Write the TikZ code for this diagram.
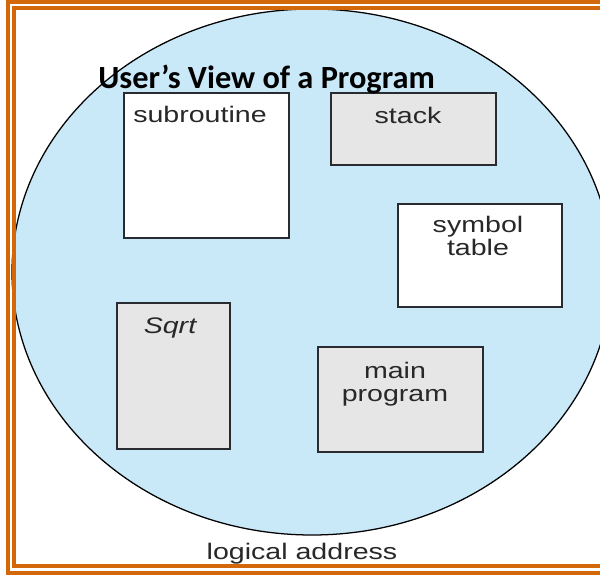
\documentclass[tikz,border=0pt]{standalone}
\usepackage{fontspec}
\setmainfont{Liberation Sans}
\newfontfamily\titlefont{Carlito}
\definecolor{frameorange}{RGB}{210,104,10}
\definecolor{spaceblue}{RGB}{201,232,248}
\definecolor{segfill}{RGB}{230,230,230}
\definecolor{segline}{RGB}{40,44,48}
\definecolor{segtext}{RGB}{40,40,40}
\tikzset{
  segbox/.style={draw=segline, line width=1pt, inner sep=0pt},
  seglabel/.style={anchor=base, text=segtext, inner sep=0pt, align=center,
    font=\fontsize{16pt}{17pt}\selectfont, xscale=1.27, transform shape}
}
\begin{document}
\begin{tikzpicture}[x=0.025cm,y=-0.025cm]
\useasboundingbox (0,0) rectangle (600,577);
\clip (0,0) rectangle (600,577);
\fill [color=white] (0,0) rectangle (600,577);
% logical address space
\draw [fill=spaceblue, line width=0.9pt] (312,272) ellipse (300 and 263);
% double frame
\draw [color=frameorange, line width=2.2pt] (8,2) rectangle (620,573);
\draw [color=frameorange, line width=2.2pt] (14,8) rectangle (614,566);
% segments
\node[segbox, fill=white, minimum width=4.125cm, minimum height=3.625cm] (sub) at (206.5,165.5) {};
\node[segbox, fill=segfill, minimum width=4.125cm, minimum height=1.8cm] (stack) at (413.5,129) {};
\node[segbox, fill=white, minimum width=4.1cm, minimum height=2.575cm] (symtab) at (480,255.5) {};
\node[segbox, fill=segfill, minimum width=2.825cm, minimum height=3.65cm] (sqrt) at (173.5,376) {};
\node[segbox, fill=segfill, minimum width=4.125cm, minimum height=2.625cm] (mainprog) at (400.5,399.5) {};
\node[seglabel] (sublbl) at (200,123) {subroutine};
\node[seglabel] (stacklbl) at (408,124) {stack};
\node[seglabel] (symtablbl) at (478,256) {symbol\\table};
\node[seglabel] (sqrtlbl) at (170,334) {\itshape Sqrt};
\node[seglabel] (mainlbl) at (395,402) {main\\program};
\node[seglabel] (addrlbl) at (302,559) {logical address};
% title
\node[anchor=base west, inner sep=0pt, font=\titlefont\bfseries\fontsize{23pt}{26pt}\selectfont] (title) at (98,89) {User’s View of a Program};
\end{tikzpicture}
\end{document}
